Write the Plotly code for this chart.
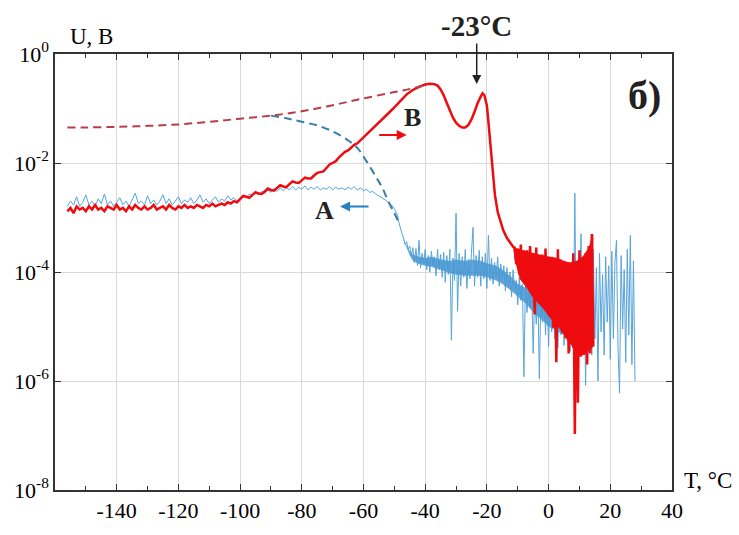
import numpy as np
import plotly.graph_objects as go

# ---------------- data ----------------
# Series A (blue, cooling) : sampled on a regular temperature grid
A_T = list(np.arange(-156, -48, 1.0)) + list(np.arange(-48.5, 28.01, 0.5))
A_U = [
    # -156 .. -101
    1.6e-3, 2.0e-3, 1.7e-3, 2.4e-3, 1.6e-3, 1.9e-3, 2.6e-3, 1.7e-3, 2.0e-3, 1.6e-3,
    2.2e-3, 1.8e-3, 2.7e-3, 1.7e-3, 2.0e-3, 1.6e-3, 1.9e-3, 2.3e-3, 1.7e-3, 2.0e-3,
    1.6e-3, 2.1e-3, 2.8e-3, 1.8e-3, 2.0e-3, 1.7e-3, 2.5e-3, 1.8e-3, 2.1e-3, 1.7e-3,
    2.0e-3, 2.6e-3, 1.8e-3, 2.2e-3, 1.7e-3, 2.0e-3, 2.4e-3, 1.8e-3, 2.1e-3, 1.9e-3,
    2.3e-3, 1.8e-3, 2.1e-3, 2.6e-3, 1.9e-3, 2.2e-3, 1.8e-3, 2.1e-3, 2.4e-3, 1.9e-3,
    2.2e-3, 2.0e-3, 2.5e-3, 2.1e-3, 2.3e-3, 2.0e-3,
    # -100 .. -49
    2.3e-3, 2.6e-3, 2.3e-3, 2.7e-3, 2.5e-3, 2.9e-3, 2.6e-3, 3.0e-3, 2.8e-3, 3.2e-3,
    2.9e-3, 3.4e-3, 3.0e-3, 3.5e-3, 3.1e-3, 3.6e-3, 3.2e-3, 3.7e-3, 3.2e-3, 3.6e-3,
    3.3e-3, 3.8e-3, 3.2e-3, 3.6e-3, 3.3e-3, 3.7e-3, 3.2e-3, 3.5e-3, 3.3e-3, 3.7e-3,
    3.2e-3, 3.6e-3, 3.3e-3, 3.5e-3, 3.2e-3, 3.6e-3, 3.3e-3, 3.7e-3, 3.2e-3, 3.5e-3,
    3.1e-3, 3.3e-3, 2.9e-3, 3.0e-3, 2.7e-3, 2.5e-3, 2.3e-3, 2.1e-3, 1.9e-3, 1.7e-3,
    1.45e-3, 1.1e-3,
    # -48.5 .. 28 (step 0.5)
    8e-4, 6e-4, 5e-4, 4.2e-4, 3.2e-4, 3.6e-4, 2.6e-4, 3.0e-4, 2.0e-4, 2.8e-4,
    1.5e-4, 2.7e-4, 1.3e-4, 3.8e-4, 1.2e-4, 2.2e-4, 1.4e-4, 2.6e-4, 1.1e-4, 2.0e-4,
    1.0e-4, 2.4e-4, 1.3e-4, 1.9e-4, 8.5e-5, 2.6e-4, 1.1e-4, 2.1e-4, 8e-5, 2.3e-4,
    6.5e-5, 2.0e-4, 9e-5, 2.6e-4, 5.6e-6, 1.8e-4, 7e-5, 1.2e-3, 1.9e-5, 2.2e-4,
    5.5e-5, 1.9e-4, 8e-5, 2.6e-4, 5e-5, 1.7e-4, 7.5e-5, 2.3e-4, 6.6e-4, 5.5e-5,
    2.0e-4, 8e-5, 2.5e-4, 5.5e-5, 1.9e-4, 7.5e-5, 2.2e-4, 5e-5, 4.7e-4, 7e-5,
    1.8e-4, 6e-5, 1.5e-4, 8e-5, 1.9e-4, 5.5e-5, 1.4e-4, 7e-5, 1.3e-4, 4.5e-5,
    1.2e-4, 5.5e-5, 1.0e-4, 3.5e-5, 1.1e-4, 4.5e-5, 7e-5, 2.5e-5, 8e-5, 3e-5,
    6e-5, 1.2e-6, 7e-5, 1.8e-5, 5e-5, 2.2e-5, 6e-5, 3.2e-6, 4.5e-5, 1.1e-5,
    5e-5, 1.1e-6, 4e-5, 1.2e-5, 5.5e-5, 7e-6, 4.5e-5, 4.3e-6, 5e-5, 8e-6,
    4.5e-5, 6e-6, 6e-5, 4e-6, 5e-5, 7e-6, 5.5e-5, 4.5e-6, 6e-5, 5.5e-6,
    5e-5, 3.5e-6, 6e-5, 5e-6, 2.8e-3, 4e-6, 6e-5, 6e-6, 5e-4, 4.5e-6,
    7e-5, 8.3e-7, 9e-5, 5e-6, 1.6e-4, 3e-6, 2.6e-4, 6e-6, 1.2e-4, 1e-6,
    2.2e-4, 8e-6, 9e-5, 3e-6, 1.9e-4, 1.2e-5, 1.3e-4, 2.5e-6, 2.4e-4, 6e-6,
    1.5e-4, 3.8e-4, 4e-6, 6e-7, 2.0e-4, 9e-6, 1.1e-4, 2.2e-6, 2.6e-4, 7e-6,
    4.7e-4, 2e-6, 1.6e-4, 1e-6,
]
# dense core of the noisy part of A (upper / lower edge)
A_CORE_T = [-47.5, -46, -45, -44, -42, -40, -38, -35, -32, -30, -27, -25, -22, -20, -17,
            -15, -12, -10, -7, -5, -2, 0, 5, 10, 14]
A_CORE_HI = [4.4e-4, 3.0e-4, 2.4e-4, 2.1e-4, 1.9e-4, 1.8e-4, 1.9e-4, 1.7e-4, 1.6e-4, 1.7e-4,
             1.6e-4, 1.7e-4, 1.6e-4, 1.45e-4, 1.3e-4, 1.1e-4, 8e-5, 6e-5, 5e-5, 4.5e-5,
             4e-5, 3.5e-5, 3.5e-5, 3.5e-5, 3.5e-5]
A_CORE_LO = [4.4e-4, 2.8e-4, 2.0e-4, 1.6e-4, 1.4e-4, 1.3e-4, 1.25e-4, 1.1e-4, 9.5e-5, 9e-5,
             8.5e-5, 8.5e-5, 8.5e-5, 8e-5, 7e-5, 6e-5, 4.5e-5, 3.5e-5, 2.5e-5, 1.8e-5,
             1.3e-5, 1.0e-5, 7e-6, 6e-6, 6e-6]

# Series B (red, heating)
B_T = (list(np.arange(-156, -59, 1.0)) +
       [-58, -56, -54, -52, -50, -48, -46, -44, -42, -40,
        -38.5, -37, -36, -35, -34, -33, -32, -31, -30, -29,
        -28, -27, -26, -25, -24, -23, -22, -21.4, -20.8, -20,
        -19.5, -19, -18.5, -18, -17.4, -16.5, -15.5, -14.7, -13.5, -12.5,
        -11.5] +
       list(np.arange(-11, 14.51, 0.5)))
B_U = [
    # -156 .. -101
    1.3e-3, 1.5e-3, 1.2e-3, 1.6e-3, 1.4e-3, 1.5e-3, 1.3e-3, 1.6e-3, 1.4e-3, 1.7e-3,
    1.4e-3, 1.5e-3, 1.3e-3, 1.6e-3, 1.5e-3, 1.4e-3, 1.7e-3, 1.4e-3, 1.5e-3, 1.3e-3,
    1.6e-3, 1.4e-3, 1.7e-3, 1.5e-3, 1.4e-3, 1.6e-3, 1.4e-3, 1.5e-3, 1.7e-3, 1.4e-3,
    1.5e-3, 1.6e-3, 1.4e-3, 1.7e-3, 1.5e-3, 1.4e-3, 1.6e-3, 1.5e-3, 1.7e-3, 1.5e-3,
    1.6e-3, 1.5e-3, 1.7e-3, 1.6e-3, 1.5e-3, 1.7e-3, 1.6e-3, 1.8e-3, 1.6e-3, 1.7e-3,
    1.8e-3, 1.7e-3, 1.9e-3, 1.8e-3, 2.0e-3, 1.9e-3,
    # -100 .. -60
    2.2e-3, 2.5e-3, 2.4e-3, 2.3e-3, 2.6e-3, 2.9e-3, 2.75e-3, 2.7e-3, 3.0e-3, 3.4e-3,
    3.2e-3, 3.1e-3, 3.5e-3, 3.9e-3, 3.7e-3, 3.6e-3, 4.1e-3, 4.6e-3, 4.4e-3, 4.3e-3,
    4.8e-3, 5.4e-3, 5.2e-3, 5.2e-3, 5.9e-3, 6.6e-3, 6.8e-3, 7.0e-3, 8.1e-3, 9.4e-3,
    1.0e-2, 1.08e-2, 1.26e-2, 1.45e-2, 1.6e-2, 1.7e-2, 1.9e-2, 2.15e-2, 2.3e-2, 2.6e-2,
    2.95e-2,
    # -58 .. -11.5
    3.8e-2, 4.9e-2, 6.3e-2, 8.1e-2, 0.105, 0.138, 0.182, 0.219, 0.25, 0.275,
    0.285, 0.28, 0.263, 0.224, 0.174, 0.126, 0.089, 0.068, 0.055, 0.048,
    0.0447, 0.0447, 0.050, 0.063, 0.087, 0.126, 0.165, 0.19, 0.175, 0.112,
    0.056, 0.026, 0.0126, 5.6e-3, 2.6e-3, 1.26e-3, 7.9e-4, 5.8e-4, 4.2e-4, 3.4e-4,
    2.9e-4,
    # -11 .. 14.5 (step 0.5)
    2.8e-4, 1.4e-4, 2.7e-4, 9e-5, 3.2e-4, 7e-5, 2.5e-4, 6e-5, 2.5e-4, 5e-5,
    3.0e-4, 4e-5, 2.2e-4, 1.66e-5, 2.8e-4, 3e-5, 2.1e-4, 2.6e-5, 2.1e-4, 2.2e-5,
    2.7e-4, 1.9e-5, 1.9e-4, 1.5e-5, 1.9e-4, 9.5e-6, 1.8e-4, 2.2e-6, 2.6e-4, 1.0e-5,
    1.7e-4, 7.5e-6, 1.6e-4, 6e-6, 1.5e-4, 3.2e-6, 1.5e-4, 5e-6, 2.2e-4, 1.07e-7,
    1.6e-4, 4e-7, 2.5e-4, 2.8e-6, 1.9e-4, 3e-6, 2.2e-4, 2.0e-6, 3.0e-4, 3.2e-6,
    5e-4, 4.3e-6,
]
# dense core of the noisy part of B
B_CORE_T = [-11.5, -11, -9.3, -7, -5, -2, 0.4, 3, 4.8, 7, 9.1, 11, 13, 14, 14.5]
B_CORE_HI = [2.9e-4, 2.8e-4, 2.6e-4, 2.4e-4, 2.2e-4, 2.0e-4, 1.9e-4, 1.8e-4, 1.6e-4, 1.5e-4,
             1.6e-4, 1.9e-4, 2.8e-4, 4.5e-4, 5e-4]
B_CORE_LO = [2.9e-4, 1.7e-4, 7.4e-5, 5e-5, 3.3e-5, 2.2e-5, 1.45e-5, 1.0e-5, 7.4e-6, 5e-6,
             2.8e-6, 3e-6, 3.5e-6, 4e-6, 4.3e-6]

# Extrapolation (dashed) curves
DB_T = [-156, -150, -140, -130, -120, -110, -100, -90, -80, -70, -60, -50, -44, -39]
DB_U = [0.045, 0.045, 0.046, 0.048, 0.051, 0.057, 0.065, 0.074, 0.089, 0.115, 0.153, 0.20, 0.235, 0.28]
DA_T = [-90, -85, -80, -75, -70, -65, -62, -59, -56, -54, -52, -50, -48.5]
DA_U = [0.074, 0.066, 0.057, 0.049, 0.038, 0.026, 0.019, 0.0107, 0.0056, 0.0036, 0.0020, 0.0012, 0.0008]

X_TICKS = [-140, -120, -100, -80, -60, -40, -20, 0, 20, 40]
X_TEXT = ["-140", "-120", "-100", "-80", "-60", "-40", "-20", "0", "20", "40"]
Y_TICKS = [1e-8, 1e-6, 1e-4, 1e-2, 1]
Y_TEXT = ["10<sup>-8</sup>", "10<sup>-6</sup>", "10<sup>-4</sup>", "10<sup>-2</sup>", "10<sup>0</sup>"]

assert len(A_T) == len(A_U), (len(A_T), len(A_U))
assert len(B_T) == len(B_U), (len(B_T), len(B_U))

# ---------------- figure ----------------
SERIF = "Liberation Serif, Times New Roman, serif"
BLUE = "rgb(70,155,215)"
BLUE_CORE = "rgba(40,128,200,0.7)"
RED = "rgb(238,12,16)"

fig = go.Figure()
fig.add_trace(go.Scatter(x=A_CORE_T + A_CORE_T[::-1], y=A_CORE_HI + A_CORE_LO[::-1],
                         mode="lines", fill="toself", fillcolor=BLUE_CORE,
                         line=dict(width=0), hoverinfo="skip"))
fig.add_trace(go.Scatter(x=A_T, y=A_U, mode="lines",
                         line=dict(color=BLUE, width=1), opacity=0.9))
fig.add_trace(go.Scatter(x=B_CORE_T + B_CORE_T[::-1], y=B_CORE_HI + B_CORE_LO[::-1],
                         mode="lines", fill="toself", fillcolor=RED,
                         line=dict(width=0), hoverinfo="skip"))
fig.add_trace(go.Scatter(x=B_T, y=B_U, mode="lines",
                         line=dict(color=RED, width=2.5)))
fig.add_trace(go.Scatter(x=DB_T, y=DB_U, mode="lines",
                         line=dict(color="rgb(185,60,75)", width=2, dash="8px,5px"),
                         line_shape="spline"))
fig.add_trace(go.Scatter(x=DA_T, y=DA_U, mode="lines",
                         line=dict(color="rgb(55,125,170)", width=2, dash="8px,5px"),
                         line_shape="spline"))

fig.update_layout(
    width=739, height=535,
    margin=dict(l=55, r=67, t=54, b=30),
    plot_bgcolor="white", paper_bgcolor="white",
    showlegend=False,
    font=dict(family=SERIF, color="black"),
)
fig.update_xaxes(
    range=[-160, 40], tickmode="array", tickvals=X_TICKS, ticktext=X_TEXT,
    ticks="inside", ticklen=6, tickcolor="#333", tickwidth=1.2,
    showline=True, linecolor="#333", linewidth=1.5, mirror="ticks",
    showgrid=True, gridcolor="#dadada", gridwidth=1, zeroline=False,
    tickfont=dict(size=22, family=SERIF, color="black"),
    minor=dict(tickmode="linear", tick0=-160, dtick=10, ticks="inside",
               ticklen=4, tickcolor="#333", showgrid=False),
)
fig.update_yaxes(
    type="log", range=[-8, 0], tickmode="array", tickvals=Y_TICKS, ticktext=Y_TEXT,
    ticks="inside", ticklen=6, tickcolor="#333", tickwidth=1.2,
    showline=True, linecolor="#333", linewidth=1.5, mirror="ticks",
    showgrid=True, gridcolor="#dadada", gridwidth=1, zeroline=False,
    tickfont=dict(size=22, family=SERIF, color="black"),
)

def label(text, x, y, size, xanchor="center", color="#222"):
    return dict(text=text, xref="paper", yref="paper", x=x, y=y,
                xanchor=xanchor, yanchor="middle", showarrow=False,
                font=dict(size=size, family=SERIF, color=color))

ann = [
    label("U, B", 0.059, 1.04, 23, color="black"),
    label("T, °C", 1.016, 0.022, 23, xanchor="left", color="black"),
    label("<b>-23°C</b>", 0.683, 1.064, 29),
    label("<b>б)</b>", 0.956, 0.905, 40),
    label("<b>A</b>", 0.436, 0.641, 26),
    label("<b>B</b>", 0.580, 0.854, 26),
    dict(text="", x=-67.6, y=-2.797, xref="x", yref="y", ax=30, ay=0,
         showarrow=True, arrowhead=2, arrowsize=1, arrowwidth=2,
         arrowcolor="rgb(40,125,195)", standoff=0),
    dict(text="", x=-46.0, y=-1.485, xref="x", yref="y", ax=-29, ay=0,
         showarrow=True, arrowhead=2, arrowsize=1, arrowwidth=2,
         arrowcolor=RED, standoff=0),
    dict(text="", x=-23.3, y=-0.55, xref="x", yref="y", ax=0, ay=-42,
         showarrow=True, arrowhead=2, arrowsize=1.2, arrowwidth=1.5,
         arrowcolor="#222", standoff=0),
]
fig.update_layout(annotations=ann)

fig.write_html("out.html", config={"displayModeBar": False},
               post_script="document.body.style.margin='0px';document.body.style.padding='0px';")
